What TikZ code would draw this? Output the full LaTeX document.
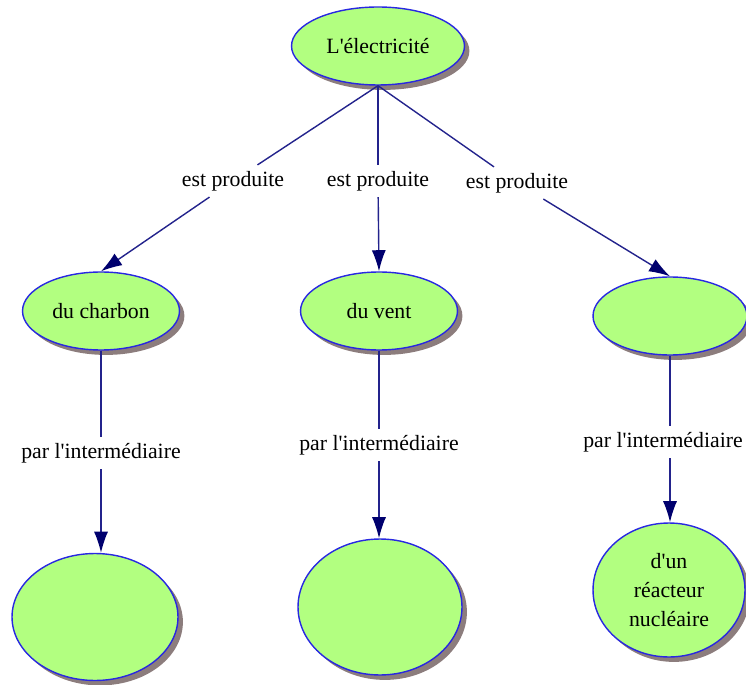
\documentclass[tikz,border=0pt]{standalone}
\usepackage{fontspec}
\setmainfont{Liberation Serif}[Ligatures=TeXOff]
\usetikzlibrary{arrows.meta, shapes.geometric, shadows}
\definecolor{vert}{RGB}{178,255,128}
\definecolor{bord}{RGB}{40,40,225}
\definecolor{trait}{RGB}{35,35,140}
\definecolor{pointe}{RGB}{0,0,110}
\definecolor{ombre}{RGB}{140,125,125}

\begin{document}
\begin{tikzpicture}[x=0.02cm, y=-0.02cm,
    bulle/.style={ellipse, draw=bord, fill=vert, line width=0.8pt, inner sep=1pt,
      drop shadow={shadow xshift=2.8pt, shadow yshift=-2.8pt, fill=ombre, opacity=1},
      font=\fontsize{12.4}{16.4}\selectfont, align=center},
    lien/.style={font=\fontsize{12.4}{15}\selectfont},
    ligne/.style={draw=trait, line width=0.8pt},
    fleche/.style={ligne, -{Latex[length=12pt, width=8pt, color=pointe]}}]
  \useasboundingbox (0,0) rectangle (746,685);

  \node[bulle, minimum width=3.46cm, minimum height=1.56cm] (elec) at (378,46) {L'électricité};

  \node[bulle, minimum width=3.14cm, minimum height=1.56cm] (charbon) at (101,311) {du charbon};
  \node[bulle, minimum width=3.14cm, minimum height=1.56cm] (vent) at (379,311) {du vent};
  \node[bulle, minimum width=3.08cm, minimum height=1.56cm] (vide) at (670,316) {};

  \node[bulle, minimum width=3.32cm, minimum height=2.54cm] (bas1) at (95,617) {};
  \node[bulle, minimum width=3.28cm, minimum height=2.72cm] (bas2) at (380,607) {};
  \node[bulle, minimum width=3.04cm, minimum height=2.68cm] (reacteur) at (669,590) {d'un\\réacteur\\nucléaire};

  \node[lien] (prod1) at (233,181) {est produite};
  \node[lien] (prod2) at (378,181) {est produite};
  \node[lien] (prod3) at (517,183) {est produite};

  \node[lien] (inter1) at (101,453) {par l'intermédiaire};
  \node[lien] (inter2) at (379,445) {par l'intermédiaire};
  \node[lien] (inter3) at (663,442) {par l'intermédiaire};

  \draw[ligne] (elec.south) -- (prod1);
  \draw[ligne] (elec.south) -- (prod2);
  \draw[ligne] (elec.south) -- (prod3);
  \draw[fleche] (prod1) -- (charbon.north);
  \draw[fleche] (prod2) -- (vent.north);
  \draw[fleche] (prod3) -- (vide.north);

  \draw[ligne] (charbon) -- (inter1);
  \draw[ligne] (vent) -- (inter2);
  \draw[ligne] (vide) -- (vide |- inter3.north);
  \draw[fleche] (inter1) -- (inter1 |- bas1.north);
  \draw[fleche] (inter2) -- (inter2 |- bas2.north);
  \draw[fleche] (vide |- inter3.south) -- (vide |- reacteur.north);
\end{tikzpicture}
\end{document}
